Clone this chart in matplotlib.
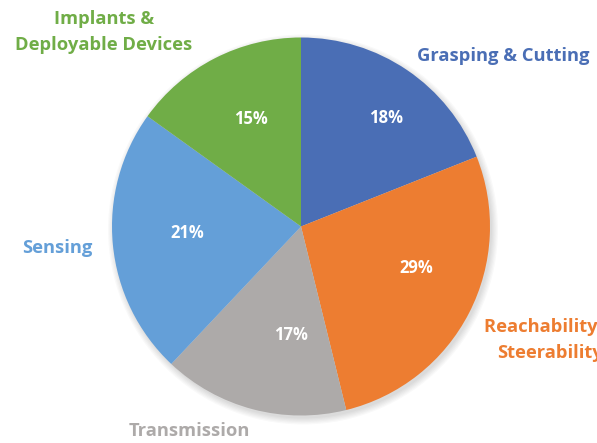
import matplotlib
matplotlib.use("Agg")
import matplotlib.pyplot as plt
from matplotlib.patches import Circle

categories = ["Grasping & Cutting", "Reachability &\nSteerability", "Transmission", "Sensing", "Implants &\nDeployable Devices"]
# slice shares as drawn in the picture
values = [19.0, 27.2, 15.9, 22.9, 15.1]
# percentage labels as printed in the picture
pct_labels = ["18%", "29%", "17%", "21%", "15%"]
colors = ["#4A6EB5", "#ED7D31", "#ADAAA9", "#649FD8", "#70AD47"]

CX, CY = 301, 226.5
W, H = 597, 443

fig = plt.figure(figsize=(5.97, 4.43), dpi=100)
ax = fig.add_axes([0, 0, 1, 1])
ax.set_aspect("equal")
ax.axis("off")

# soft shadow
for k in range(6):
    ax.add_patch(Circle((2, -3), 189 + k * 1.2, color="#000000", alpha=0.025, lw=0, zorder=0))

wedges, texts = ax.pie(values, startangle=90, counterclock=False, colors=colors,
                       radius=189, center=(0, 0), wedgeprops=dict(linewidth=0, zorder=2))
ax.set_xlim(-CX, W - CX)
ax.set_ylim(CY - H, CY)

def px(x, y):
    return x - CX, CY - y

pct_pos = [(386, 118), (416, 268), (291, 335), (187, 233), (251, 119)]
for lab, (x, y) in zip(pct_labels, pct_pos):
    ax.text(*px(x, y), lab, color="white", fontsize=12, fontweight="bold", family="Open Sans",
            ha="center", va="center", zorder=3)

label_pos = [(417, 56, "left"), (550, 340, "center"), (189, 431, "center"), (57, 248, "center"), (104, 32, "center")]
for cat, col, (x, y, ha) in zip(categories, colors, label_pos):
    ax.text(*px(x, y), cat, color=col, fontsize=13.2, fontweight="bold", family="Open Sans",
            ha=ha, va="center", multialignment="center", linespacing=1.55, zorder=3)

fig.savefig("out.png", dpi=100)
